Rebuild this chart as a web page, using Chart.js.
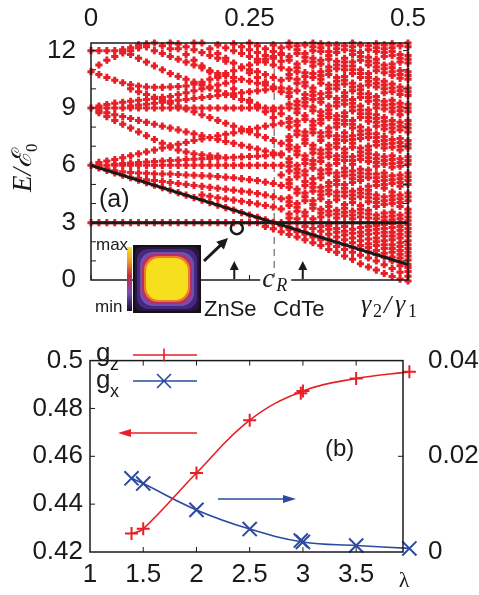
<!DOCTYPE html>
<html>
<head>
<meta charset="utf-8">
<script src="https://cdn.jsdelivr.net/npm/chart.js@4.4.1/dist/chart.umd.min.js"></script>
<style>
  body { margin: 0; background: #fff; }
  canvas { position: absolute; left: 0; }
  #topChart { top: 0; }
  #bottomChart { top: 320px; }
</style>
</head>
<body>
<canvas id="topChart" width="479" height="320"></canvas>
<canvas id="bottomChart" width="479" height="275"></canvas>
<script>
// ---- panel (a): spectrum vs top-axis parameter ----
const ratioCols = [0, 0.0125, 0.025, 0.0375, 0.05, 0.0625, 0.075, 0.0875, 0.1, 0.1125, 0.125,
  0.1375, 0.15, 0.1625, 0.175, 0.1875, 0.2, 0.2125, 0.225, 0.2375, 0.25, 0.2625, 0.275, 0.2875,
  0.3, 0.3125, 0.325, 0.3375, 0.35, 0.3625, 0.375, 0.3875, 0.4, 0.4125, 0.425, 0.4375, 0.45,
  0.4625, 0.475, 0.4875, 0.5];

// energy levels (E/E0) read column by column
const levelsByCol = [
  [3, 6, 9, 10.9, 12],
  [3, 5.87, 5.92, 6.0, 6.15, 8.75, 8.85, 9.0, 9.1, 10.75, 11.25, 12.0],
  [3, 5.74, 5.82, 6.0, 6.22, 8.55, 8.75, 9.0, 9.18, 10.6, 11.5, 12.0],
  [3, 5.61, 5.72, 6.0, 6.05, 6.3, 8.35, 8.65, 9.0, 9.25, 10.45, 11.7, 12.0],
  [3, 5.48, 5.66, 6.0, 6.1, 6.4, 8.15, 8.55, 9.0, 9.3, 10.32, 11.88, 12.0, 12.05],
  [3, 5.35, 5.62, 6.0, 6.12, 6.5, 7.95, 8.45, 9.0, 9.1, 9.35, 10.0, 10.22, 11.8, 12.0, 12.15],
  [3, 5.22, 5.32, 5.6, 6.0, 6.15, 6.6, 7.75, 8.35, 9.0, 9.15, 9.4, 9.85, 10.15, 11.6, 12.15, 12.3],
  [3, 5.09, 5.25, 5.58, 6.0, 6.18, 6.7, 7.55, 8.25, 9.0, 9.2, 9.45, 9.7, 10.1, 11.4, 12.2, 12.35],
  [3, 4.96, 5.2, 5.56, 6.0, 6.2, 6.8, 7.35, 8.15, 9.0, 9.25, 9.5, 9.56, 10.08, 11.2, 12.0, 12.4],
  [3, 4.83, 5.15, 5.55, 6.0, 6.22, 6.9, 7.15, 8.05, 9.0, 9.3, 9.4, 9.55, 10.08, 11.0, 11.85, 12.25],
  [3, 4.7, 5.1, 5.54, 6.0, 6.25, 6.95, 7.02, 7.95, 9.0, 9.25, 9.35, 9.6, 10.1, 10.8, 11.7, 12.1, 12.4],
  [3, 4.57, 5.05, 5.52, 6.0, 6.27, 6.8, 7.1, 7.85, 9.0, 9.1, 9.4, 9.7, 10.12, 10.65, 11.55, 12.1, 12.35],
  [3, 4.44, 5.0, 5.5, 6.0, 6.3, 6.7, 7.2, 7.75, 8.95, 9.0, 9.45, 9.8, 10.15, 10.5, 11.4, 11.8, 12.2],
  [3, 4.31, 4.95, 5.48, 6.0, 6.32, 6.6, 7.3, 7.65, 8.8, 9.0, 9.5, 9.9, 10.25, 10.35, 11.25, 11.5, 12.05, 12.4],
  [3, 4.18, 4.45, 4.9, 5.46, 6.0, 6.34, 6.55, 7.38, 7.55, 8.65, 9.0, 9.55, 10.0, 10.2, 10.35, 11.1, 11.2, 11.9, 12.4],
  [3, 4.05, 4.38, 4.85, 5.44, 6.0, 6.36, 6.5, 7.45, 8.5, 9.0, 9.6, 10.05, 10.1, 10.5, 10.9, 10.95, 11.75, 12.1],
  [3, 3.92, 4.3, 4.8, 5.41, 6.0, 6.38, 6.48, 7.35, 7.55, 8.35, 9.0, 9.65, 9.9, 10.2, 10.6, 10.65, 10.8, 11.6, 11.85, 12.3],
  [3, 3.79, 4.25, 4.75, 5.38, 6.0, 6.4, 7.25, 7.62, 8.2, 9.0, 9.7, 9.75, 10.3, 10.7, 10.8, 11.45, 11.6, 12.15],
  [3, 3.66, 4.18, 4.7, 5.35, 6.0, 6.42, 7.15, 7.7, 8.05, 9.0, 9.6, 9.75, 10.0, 10.4, 10.6, 10.95, 11.35, 12.0, 12.35],
  [3, 3.53, 4.12, 4.65, 5.3, 6.0, 6.44, 7.05, 7.8, 7.9, 9.0, 9.45, 9.8, 10.5, 11.1, 11.15, 11.85, 12.2],
  [3, 3.4, 4.05, 4.6, 5.25, 6.0, 6.46, 6.95, 7.75, 7.88, 9.0, 9.3, 9.4, 9.85, 10.4, 10.85, 11.0, 11.25, 11.7, 12.05, 12.4],
  [3, 3.28, 3.98, 4.52, 5.2, 6.0, 6.48, 6.85, 7.6, 7.95, 9.0, 9.1, 9.15, 9.9, 10.3, 10.6, 10.9, 11.4, 11.55, 11.9, 12.25],
  [2.8, 3, 3.15, 3.9, 4.45, 5.12, 6.0, 6.5, 6.75, 7.45, 8.05, 8.8, 9.0, 9.95, 10.2, 10.35, 10.75, 11.4, 11.55, 11.75, 12.1],
  [2.68, 3, 3.02, 3.82, 4.35, 5.05, 6.0, 6.55, 6.65, 7.3, 8.12, 8.5, 8.85, 9.0, 10.0, 10.1, 10.6, 11.25, 11.6, 11.7, 11.95, 12.3],
  [2.52, 2.85, 2.89, 3, 3.72, 4.25, 4.95, 5.5, 6.0, 6.55, 6.6, 7.15, 8.2, 8.7, 9.0, 9.85, 10.05, 10.45, 11.1, 11.45, 11.8, 11.85, 12.15],
  [2.38, 2.65, 2.76, 3.0, 3.25, 3.45, 3.9, 4.1, 4.3, 4.85, 5.05, 5.25, 5.7, 5.95, 6.15, 6.35, 6.85, 7.05, 7.3, 7.5, 8.0, 8.25, 8.45, 9.0, 9.2, 9.6, 9.8, 10.0, 10.55, 10.75, 11.0, 11.5, 11.7, 12.2, 12.4],
  [2.25, 2.52, 2.63, 3.0, 3.2, 3.6, 3.8, 4.0, 4.55, 4.75, 5.4, 5.6, 5.8, 6.0, 6.55, 6.75, 6.95, 7.6, 7.8, 8.1, 8.3, 8.75, 8.95, 9.15, 9.35, 9.9, 10.3, 10.5, 10.9, 11.1, 11.3, 11.85, 12.05, 12.25],
  [2.1, 2.4, 2.5, 2.8, 3.0, 3.35, 3.55, 4.15, 4.35, 4.55, 4.95, 5.15, 5.5, 5.7, 6.1, 6.3, 6.5, 7.15, 7.35, 7.55, 7.75, 8.4, 8.6, 9.1, 9.3, 9.5, 9.7, 10.15, 10.35, 10.65, 10.85, 11.45, 11.65, 11.85, 12.3],
  [1.95, 2.25, 2.37, 2.7, 3.0, 3.2, 3.75, 3.95, 4.15, 4.65, 4.85, 5.05, 5.3, 5.85, 6.05, 6.25, 6.65, 6.85, 7.05, 7.7, 7.9, 8.1, 8.3, 8.85, 9.05, 9.45, 9.65, 9.85, 10.05, 10.6, 10.8, 11.2, 11.4, 11.6, 12.0, 12.2, 12.4],
  [1.8, 2.1, 2.24, 2.55, 2.8, 3.0, 3.3, 3.5, 3.7, 4.25, 4.45, 4.65, 4.85, 5.35, 5.55, 5.75, 6.2, 6.4, 6.6, 6.8, 7.3, 7.5, 7.7, 8.2, 8.4, 8.6, 8.8, 9.3, 9.5, 9.75, 10.3, 10.5, 10.7, 10.9, 11.3, 11.5, 11.95, 12.15, 12.35],
  [1.6, 1.9, 2.11, 2.4, 2.65, 2.85, 3.0, 3.4, 3.6, 3.85, 4.05, 4.5, 4.7, 4.9, 5.1, 5.6, 5.8, 6.0, 6.45, 6.65, 6.85, 7.05, 7.55, 7.75, 7.95, 8.5, 8.7, 8.9, 9.1, 9.6, 9.8, 10.0, 10.2, 10.75, 10.95, 11.15, 11.55, 11.75, 11.95, 12.3],
  [1.45, 1.75, 1.98, 2.25, 2.5, 2.7, 3.0, 3.25, 3.45, 3.65, 4.2, 4.4, 4.6, 5.0, 5.2, 5.4, 5.6, 6.1, 6.3, 6.5, 6.95, 7.15, 7.35, 7.55, 8.0, 8.2, 8.4, 8.6, 9.1, 9.3, 9.5, 10.0, 10.2, 10.4, 10.6, 11.05, 11.25, 11.45, 11.9, 12.1, 12.3],
  [1.25, 1.6, 1.85, 2.1, 2.35, 2.55, 2.8, 3.0, 3.35, 3.55, 3.75, 3.95, 4.4, 4.6, 4.8, 5.0, 5.45, 5.65, 5.85, 6.25, 6.45, 6.65, 6.85, 7.3, 7.5, 7.7, 8.15, 8.35, 8.55, 8.75, 9.2, 9.4, 9.6, 9.8, 10.25, 10.45, 10.65, 11.0, 11.2, 11.4, 11.6, 12.05, 12.25],
  [1.08, 1.45, 1.72, 1.95, 2.2, 2.45, 2.65, 3.0, 3.2, 3.4, 3.6, 4.05, 4.25, 4.45, 4.65, 5.1, 5.3, 5.5, 5.7, 6.05, 6.25, 6.45, 6.95, 7.15, 7.35, 7.55, 7.95, 8.15, 8.35, 8.85, 9.05, 9.25, 9.45, 9.9, 10.1, 10.3, 10.8, 11.0, 11.2, 11.4, 11.8, 12.0, 12.2, 12.4],
  [0.85, 1.3, 1.59, 1.8, 2.05, 2.3, 2.5, 2.75, 3.0, 3.3, 3.5, 3.7, 3.9, 4.35, 4.55, 4.75, 5.2, 5.4, 5.6, 5.8, 6.3, 6.5, 6.7, 6.9, 7.4, 7.6, 7.8, 8.0, 8.5, 8.7, 8.9, 9.1, 9.55, 9.75, 9.95, 10.15, 10.6, 10.8, 11.0, 11.5, 11.7, 11.9, 12.3],
  [0.68, 1.15, 1.46, 1.7, 1.9, 2.15, 2.4, 2.6, 2.8, 3.0, 3.25, 3.45, 3.65, 4.1, 4.3, 4.5, 4.7, 4.9, 5.35, 5.55, 5.75, 6.2, 6.4, 6.6, 6.8, 7.0, 7.45, 7.65, 7.85, 8.3, 8.5, 8.7, 8.9, 9.35, 9.55, 9.75, 10.2, 10.4, 10.6, 10.8, 11.25, 11.45, 11.65, 12.05, 12.25],
  [0.52, 1.0, 1.33, 1.55, 1.8, 2.0, 2.2, 2.45, 2.65, 2.85, 3.0, 3.2, 3.4, 3.85, 4.05, 4.25, 4.45, 4.95, 5.15, 5.35, 5.55, 5.95, 6.15, 6.35, 6.55, 7.05, 7.25, 7.45, 7.65, 8.05, 8.25, 8.45, 8.65, 9.0, 9.2, 9.4, 9.6, 10.1, 10.3, 10.5, 10.95, 11.15, 11.35, 11.55, 11.95, 12.15, 12.35],
  [0.34, 0.8, 1.2, 1.4, 1.65, 1.85, 2.05, 2.3, 2.5, 2.7, 2.9, 3.1, 3.3, 3.5, 3.95, 4.15, 4.35, 4.8, 5.0, 5.2, 5.4, 5.6, 6.05, 6.25, 6.45, 6.9, 7.1, 7.3, 7.5, 7.9, 8.1, 8.3, 8.5, 8.95, 9.15, 9.35, 9.8, 10.0, 10.2, 10.4, 10.85, 11.05, 11.25, 11.7, 11.9, 12.1, 12.3],
  [0.18, 0.6, 1.0, 1.2, 1.45, 1.65, 1.85, 2.1, 2.3, 2.5, 2.75, 2.95, 3.15, 3.35, 3.55, 4.0, 4.2, 4.4, 4.6, 5.05, 5.25, 5.45, 5.9, 6.1, 6.3, 6.5, 6.95, 7.15, 7.35, 7.75, 7.95, 8.15, 8.35, 8.8, 9.0, 9.2, 9.4, 9.85, 10.05, 10.25, 10.7, 10.9, 11.1, 11.3, 11.75, 11.95, 12.15, 12.35],
  [0.05, 0.4, 0.75, 0.94, 1.15, 1.35, 1.55, 1.75, 1.95, 2.2, 2.4, 2.6, 2.8, 3.0, 3.2, 3.4, 3.85, 4.05, 4.25, 4.45, 4.9, 5.1, 5.3, 5.5, 5.95, 6.15, 6.35, 6.8, 7.0, 7.2, 7.4, 7.85, 8.05, 8.25, 8.65, 8.85, 9.05, 9.25, 9.7, 9.9, 10.1, 10.55, 10.75, 10.95, 11.4, 11.6, 11.8, 12.25],
  [-0.05, 0.2, 0.45, 0.65, 0.81, 1.05, 1.25, 1.45, 1.65, 1.85, 2.05, 2.3, 2.5, 2.7, 2.9, 3.1, 3.3, 3.5, 3.7, 4.15, 4.35, 4.55, 5.0, 5.2, 5.4, 5.6, 6.05, 6.25, 6.45, 6.9, 7.1, 7.3, 7.75, 7.95, 8.15, 8.35, 8.8, 9.0, 9.2, 9.65, 9.85, 10.05, 10.5, 10.7, 10.9, 11.35, 11.55, 11.75, 12.2, 12.4]
];

const lineEndsX = [0, 0.5];
const flatLevel = [3, 3];
const crossingLevel = [6, 0.81];
const cR = 0.289;
const materialRatios = [0.226, 0.334];   // ZnSe, CdTe
const materialNames = ['ZnSe', 'CdTe'];
const markedState = { x: 0.23, y: 2.71 };
const energyTicks = [0, 3, 6, 9, 12];
const ratioTicks = [0, 0.25, 0.5];

// ---- panel (b): g factors vs lambda ----
const lambdaVals = [1.39, 1.5, 2, 2.5, 2.98, 3, 3.5, 4];
const gzVals = [0.4277, 0.4297, 0.4530, 0.4751, 0.4864, 0.4873, 0.4925, 0.4953];
const gxVals = [0.0154, 0.0143, 0.0088, 0.0048, 0.0024, 0.0021, 0.00136, 0.00075];
const lambdaTicks = [1, 1.5, 2, 2.5, 3, 3.5];
const gzTicks = [0.42, 0.44, 0.46, 0.48, 0.5];
const gxTicks = [0, 0.02, 0.04];

const RED = '#e81f27';
const BLUE = '#2b4aa0';
const INK = '#1a1a1a';
const SANS = "'Liberation Sans', Arial, sans-serif";
const SERIF = "'Liberation Serif', 'DejaVu Serif', serif";

Chart.defaults.font.family = SANS;
Chart.defaults.color = INK;

const fmt = v => String(+v.toFixed(4));
const fixTicks = arr => scale => { scale.ticks = arr.map(v => ({ value: v })); };

function arrow(ctx, x1, y1, x2, y2, color, lw, head, hw) {
  const a = Math.atan2(y2 - y1, x2 - x1);
  const c = Math.cos(a), s = Math.sin(a);
  ctx.strokeStyle = color; ctx.fillStyle = color; ctx.lineWidth = lw;
  ctx.beginPath(); ctx.moveTo(x1, y1); ctx.lineTo(x2 - head * 0.8 * c, y2 - head * 0.8 * s); ctx.stroke();
  ctx.beginPath(); ctx.moveTo(x2, y2);
  ctx.lineTo(x2 - head * c + hw * s, y2 - head * s - hw * c);
  ctx.lineTo(x2 - head * c - hw * s, y2 - head * s + hw * c);
  ctx.closePath(); ctx.fill();
}

function innerTicks(ctx, a, scale, values, len, both) {
  ctx.beginPath();
  values.forEach(v => {
    const p = scale.getPixelForValue(v);
    if (scale.isHorizontal()) {
      ctx.moveTo(p, a.bottom); ctx.lineTo(p, a.bottom - len);
      if (both) { ctx.moveTo(p, a.top); ctx.lineTo(p, a.top + len); }
    } else if (scale.position === 'right') {
      ctx.moveTo(a.right, p); ctx.lineTo(a.right - len, p);
    } else {
      ctx.moveTo(a.left, p); ctx.lineTo(a.left + len, p);
      if (both) { ctx.moveTo(a.right, p); ctx.lineTo(a.right - len, p); }
    }
  });
  ctx.stroke();
}

function drawInset(ctx) {
  const g = ctx.createLinearGradient(0, 247, 0, 311);
  g.addColorStop(0, '#f8e61c'); g.addColorStop(0.22, '#f09a24'); g.addColorStop(0.45, '#c8283e');
  g.addColorStop(0.72, '#7450b8'); g.addColorStop(1, '#1c0c2c');
  ctx.fillStyle = g; ctx.fillRect(127, 247, 5, 64);
  ctx.fillStyle = '#141018'; ctx.fillRect(133, 245, 68, 68);
  const rings = [[2, '#2a1440', 6], [4, '#46287e', 11], [7, '#7050b0', 13], [9, '#b83060', 14], [11, '#ef7a2a', 14], [13, '#f6e01e', 13]];
  rings.forEach(([d, col, r]) => {
    ctx.fillStyle = col;
    ctx.beginPath(); ctx.roundRect(133 + d, 245 + d, 68 - 2 * d, 68 - 2 * d, r); ctx.fill();
  });
}

const topDecor = {
  id: 'topDecor',
  afterDatasetsDraw(chart) {
    const { ctx, chartArea: a, scales: { x, y } } = chart;
    ctx.save();
    ctx.strokeStyle = INK; ctx.lineWidth = 1.5;
    ctx.strokeRect(a.left, a.top, a.right - a.left, a.bottom - a.top);
    ctx.lineWidth = 1;
    innerTicks(ctx, a, y, [1, 2, 3, 4, 5, 6, 7, 8, 9, 10, 11, 12], 5, true);
    innerTicks(ctx, a, x, ratioTicks, 5, false);

    drawInset(ctx);

    // pointer to the marked state
    arrow(ctx, 204, 261, 228, 238, INK, 3, 11, 5.5);
    // material arrows
    ctx.font = '22px ' + SANS; ctx.textAlign = 'center'; ctx.textBaseline = 'alphabetic';
    materialRatios.forEach((r, i) => {
      const px = x.getPixelForValue(r);
      arrow(ctx, px, a.bottom - 1, px, a.bottom - 19, INK, 2, 9, 4.5);
      ctx.fillStyle = INK;
      ctx.fillText(materialNames[i], px - 4, 316);
    });

    // c_R label breaking the axis
    const cx = x.getPixelForValue(cR);
    ctx.fillStyle = '#fff'; ctx.fillRect(cx - 14, a.bottom - 3, 31, 7);
    ctx.fillStyle = INK; ctx.textAlign = 'left';
    ctx.font = 'italic 27px ' + SERIF; ctx.fillText('c', cx - 12, a.bottom + 7);
    ctx.font = 'italic 18px ' + SERIF; ctx.fillText('R', cx + 2, a.bottom + 11);

    // gamma ratio label
    ctx.font = 'italic 26px ' + SERIF; ctx.fillText('\u03b3', 361, 312);
    ctx.font = '18px ' + SERIF; ctx.fillText('2', 373, 317);
    ctx.font = 'italic 26px ' + SERIF; ctx.fillText('/', 384, 313);
    ctx.font = 'italic 26px ' + SERIF; ctx.fillText('\u03b3', 395, 312);
    ctx.font = '18px ' + SERIF; ctx.fillText('1', 408, 317);

    ctx.font = '25px ' + SANS; ctx.fillText('(a)', 99, 207);
    ctx.font = '17px ' + SANS; ctx.fillText('max', 96, 250); ctx.fillText('min', 95, 312);

    // y axis title E / script E_0
    ctx.translate(31, 167); ctx.rotate(-Math.PI / 2);
    ctx.font = 'italic 27px ' + SERIF;
    const w1 = ctx.measureText('E/\u2130').width;
    ctx.fillText('E/\u2130', -(w1 + 10) / 2, 0);
    ctx.font = '17px ' + SERIF; ctx.fillText('0', -(w1 + 10) / 2 + w1, 6);
    ctx.restore();
  }
};

const spectrum = [];
ratioCols.forEach((r, i) => levelsByCol[i].forEach(e => spectrum.push({ x: r, y: e })));

new Chart(document.getElementById('topChart'), {
  type: 'scatter',
  data: {
    datasets: [
      { data: lineEndsX.map((v, i) => ({ x: v, y: flatLevel[i] })), showLine: true, borderColor: INK, borderWidth: 3, pointRadius: 0, order: 0 },
      { data: lineEndsX.map((v, i) => ({ x: v, y: crossingLevel[i] })), showLine: true, borderColor: INK, borderWidth: 3, pointRadius: 0, order: 0 },
      { data: [markedState], pointStyle: 'circle', pointRadius: 6, borderColor: INK, borderWidth: 2.5, backgroundColor: 'rgba(0,0,0,0)', order: 0 },
      { data: spectrum, pointStyle: 'cross', pointRadius: 3.6, borderWidth: 3, borderColor: RED, order: 1, clip: false },
      { data: [{ x: cR, y: 0 }, { x: cR, y: 12.4 }], showLine: true, borderColor: '#777', borderWidth: 1.3, borderDash: [7, 5], pointRadius: 0, order: 2 }
    ]
  },
  options: {
    responsive: false, devicePixelRatio: 1, animation: false,
    layout: { padding: { left: 0, right: 71, top: 0, bottom: 40 } },
    plugins: { legend: { display: false }, tooltip: { enabled: false } },
    scales: {
      x: {
        type: 'linear', position: 'top', min: 0, max: 0.5,
        afterBuildTicks: fixTicks(ratioTicks), afterFit: s => { s.height = 43; },
        grid: { display: false, drawTicks: false }, border: { display: false },
        ticks: { padding: 9, font: { size: 26 }, callback: fmt, maxRotation: 0 }
      },
      y: {
        min: 0, max: 12.4,
        afterBuildTicks: fixTicks(energyTicks), afterFit: s => { s.width = 91; },
        grid: { display: false, drawTicks: false }, border: { display: false },
        ticks: { padding: 15, font: { size: 26 }, callback: fmt }
      }
    }
  },
  plugins: [topDecor]
});

const bottomDecor = {
  id: 'bottomDecor',
  afterDatasetsDraw(chart) {
    const { ctx, chartArea: a, scales: { x, y, y1 } } = chart;
    ctx.save();
    ctx.strokeStyle = INK; ctx.lineWidth = 1.5;
    ctx.strokeRect(a.left, a.top, a.right - a.left, a.bottom - a.top);
    ctx.lineWidth = 1;
    innerTicks(ctx, a, x, lambdaTicks.slice(1), 5, true);
    innerTicks(ctx, a, y, gzTicks.slice(1, -1), 5, false);
    innerTicks(ctx, a, y1, gxTicks.slice(1, -1), 5, false);

    // legend
    ctx.fillStyle = INK; ctx.textBaseline = 'alphabetic'; ctx.textAlign = 'left';
    ctx.font = '26px ' + SANS; ctx.fillText('g', 96, 41); ctx.fillText('g', 96, 68);
    ctx.font = '18px ' + SANS; ctx.fillText('z', 110, 50); ctx.fillText('x', 110, 77);
    ctx.lineWidth = 1.6;
    ctx.strokeStyle = RED; ctx.beginPath(); ctx.moveTo(133, 35); ctx.lineTo(197, 35);
    ctx.moveTo(164, 28.5); ctx.lineTo(164, 41.5); ctx.stroke();
    ctx.strokeStyle = BLUE; ctx.beginPath(); ctx.moveTo(133, 61); ctx.lineTo(197, 61);
    ctx.moveTo(157, 54); ctx.lineTo(171, 68); ctx.moveTo(171, 54); ctx.lineTo(157, 68); ctx.stroke();

    arrow(ctx, 197, 113, 118, 113, RED, 1.6, 13, 4);
    arrow(ctx, 218, 179, 296, 179, BLUE, 1.6, 13, 4);

    ctx.fillStyle = INK;
    ctx.font = '24px ' + SANS; ctx.fillText('(b)', 325, 136);
    ctx.font = '22px ' + SERIF; ctx.textAlign = 'center'; ctx.fillText('\u03bb', 404, 267);
    ctx.restore();
  }
};

// markers use every computed point; the curves skip the near-duplicate at 2.98
const gzPoints = lambdaVals.map((v, i) => ({ x: v, y: gzVals[i] }));
const gxPoints = lambdaVals.map((v, i) => ({ x: v, y: gxVals[i] }));
const onCurve = (p, i) => i !== 4;

const curveStyle = { showLine: true, tension: 0.4, borderWidth: 1.6, pointRadius: 0, clip: false };

new Chart(document.getElementById('bottomChart'), {
  type: 'scatter',
  data: {
    datasets: [
      { ...curveStyle, data: gzPoints.filter(onCurve), yAxisID: 'y', borderColor: RED },
      { ...curveStyle, data: gxPoints.filter(onCurve), yAxisID: 'y1', borderColor: BLUE },
      { data: gzPoints, yAxisID: 'y', borderColor: RED, pointStyle: 'cross', pointRadius: 6.5, pointBorderWidth: 2, clip: false },
      { data: gxPoints, yAxisID: 'y1', borderColor: BLUE, pointStyle: 'crossRot', pointRadius: 10, pointBorderWidth: 2, clip: false }
    ]
  },
  options: {
    responsive: false, devicePixelRatio: 1, animation: false,
    layout: { padding: { left: 0, right: 0, top: 18, bottom: 0 } },
    plugins: { legend: { display: false }, tooltip: { enabled: false } },
    scales: {
      x: {
        type: 'linear', min: 1, max: 3.94,
        afterBuildTicks: fixTicks(lambdaTicks), afterFit: s => { s.height = 43; },
        grid: { display: false, drawTicks: false }, border: { display: false },
        ticks: { padding: 7, font: { size: 26 }, callback: fmt, maxRotation: 0 }
      },
      y: {
        position: 'left', min: 0.42, max: 0.5,
        afterBuildTicks: fixTicks(gzTicks), afterFit: s => { s.width = 90; },
        grid: { display: false, drawTicks: false }, border: { display: false },
        ticks: { padding: 7, font: { size: 26 }, callback: fmt }
      },
      y1: {
        position: 'right', min: 0, max: 0.04,
        afterBuildTicks: fixTicks(gxTicks), afterFit: s => { s.width = 76; },
        grid: { display: false, drawTicks: false }, border: { display: false },
        ticks: { padding: 25, font: { size: 26 }, callback: fmt }
      }
    }
  },
  plugins: [bottomDecor]
});
</script>
</body>
</html>
